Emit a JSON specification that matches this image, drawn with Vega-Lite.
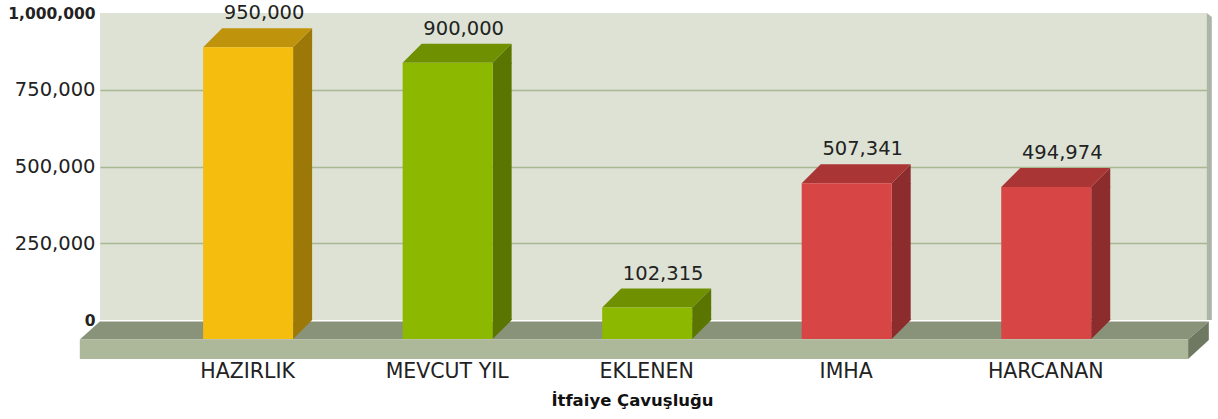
{
"$schema":"https://vega.github.io/schema/vega-lite/v6.json",
"width":1107,"height":307,
"autosize":{"type":"none"},
"padding":{"left":100,"top":13,"right":11,"bottom":99},
"background":"#ffffff",
"view":{"fill":"#dde2d5","stroke":null},
"resolve":{"scale":{"color":"independent"}},
"data":{"values":[
{"item":"HAZIRLIK","value":950000,"group":"hazirlik"},
{"item":"MEVCUT YIL","value":900000,"group":"mevcut"},
{"item":"EKLENEN","value":102315,"group":"mevcut"},
{"item":"IMHA","value":507341,"group":"harcama"},
{"item":"HARCANAN","value":494974,"group":"harcama"}
]},
"encoding":{
"x":{"field":"item","type":"nominal","sort":null,"scale":{"type":"point","padding":0.774,"align":0.541},
"axis":{"title":"İtfaiye Çavuşluğu","titleFont":"DejaVu Sans","titleFontSize":16.5,"titleFontWeight":"bold","titleColor":"#111111","titleX":532,"titleY":88,"titleBaseline":"bottom",
"labelFont":"DejaVu Sans","labelFontSize":20.5,"labelColor":"#222222","labelAngle":0,"labelPadding":41,"labelOffset":-20,"ticks":false,"domain":false,"grid":false}},
"y":{"field":"value","type":"quantitative","scale":{"domain":[0,1000000],"nice":false},
"axis":{"title":null,"values":[0,250000,500000,750000,1000000],"format":",d","labelFont":"DejaVu Sans","labelColor":"#222222","labelPadding":5,
"labelFontSize":{"expr":"datum.value==0||datum.value==1000000?15.5:19.5"},
"labelFontWeight":{"expr":"datum.value==0||datum.value==1000000?'bold':'normal'"},
"ticks":false,"domain":false,"grid":true,"gridColor":"#a8b893","gridWidth":1.5,
"gridOpacity":{"expr":"datum.value==0||datum.value==1000000?0:1"}}}
},
"layer":[
{"data":{"values":[{"item":"HAZIRLIK","value":0}]},"mark":{"type":"point","filled":true,"size":4,"opacity":1,"fill":"#adb6a6","shape":"M 939.7 -307 L 944.7 -303 L 944.7 0 L 939.7 0 Z"}},
{"data":{"values":[{"item":"HAZIRLIK","value":0}]},"mark":{"type":"point","filled":true,"size":4,"opacity":1,"fill":"#89937a","shape":"M -167.3 1.5 L 941.7 1.5 L 921 19.5 L -187.3 19.5 Z"}},
{"data":{"values":[{"item":"HAZIRLIK","value":0}]},"mark":{"type":"point","filled":true,"size":4,"opacity":1,"fill":"#adb89b","shape":"M -187.3 19.5 L 921 19.5 L 921 39 L -187.3 39 Z"}},
{"data":{"values":[{"item":"HAZIRLIK","value":0}]},"mark":{"type":"point","filled":true,"size":4,"opacity":1,"fill":"#6f7962","shape":"M 921 19.5 L 941.7 1.5 L 941.7 20 L 921 39 Z"}},
{"mark":{"type":"bar","width":19,"xOffset":35.5,"yOffset":19,"y2Offset":0},
 "encoding":{"y2":{"datum":0},"color":{"field":"group","type":"nominal","legend":null,"scale":{"domain":["hazirlik","mevcut","harcama"],"range":["#9c7808","#5a7500","#8c2c2c"]}}}},
{"mark":{"type":"point","filled":true,"size":4,"opacity":1,"shape":"M 26 19 L 45 0 L 45 20 L 26 20 Z"},
 "encoding":{"color":{"field":"group","type":"nominal","legend":null,"scale":{"domain":["hazirlik","mevcut","harcama"],"range":["#9c7808","#5a7500","#8c2c2c"]}}}},
{"mark":{"type":"point","filled":true,"size":4,"opacity":1,"shape":"M 26 -1 L 45 -1 L 45 0 L 26 19 Z"},
 "encoding":{"y":{"datum":0},"color":{"field":"group","type":"nominal","legend":null,"scale":{"domain":["hazirlik","mevcut","harcama"],"range":["#9c7808","#5a7500","#8c2c2c"]}}}},
{"mark":{"type":"point","filled":true,"size":4,"opacity":1,"shape":"M -64 19 L 26 19 L 45 0 L -45 0 Z"},
 "encoding":{"color":{"field":"group","type":"nominal","legend":null,"scale":{"domain":["hazirlik","mevcut","harcama"],"range":["#bf930b","#6f9000","#a93535"]}}}},
{"mark":{"type":"bar","width":90,"xOffset":-19,"yOffset":19,"y2Offset":19},
 "encoding":{"y2":{"datum":0},"color":{"field":"group","type":"nominal","legend":null,"scale":{"domain":["hazirlik","mevcut","harcama"],"range":["#f5bd0e","#8db800","#d84545"]}}}},
{"mark":{"type":"text","font":"DejaVu Sans","fontSize":19.5,"color":"#222222","dx":-3,"dy":-5,"baseline":"bottom","align":"center"},
 "encoding":{"text":{"field":"value","type":"quantitative","format":","}}}
]
}
